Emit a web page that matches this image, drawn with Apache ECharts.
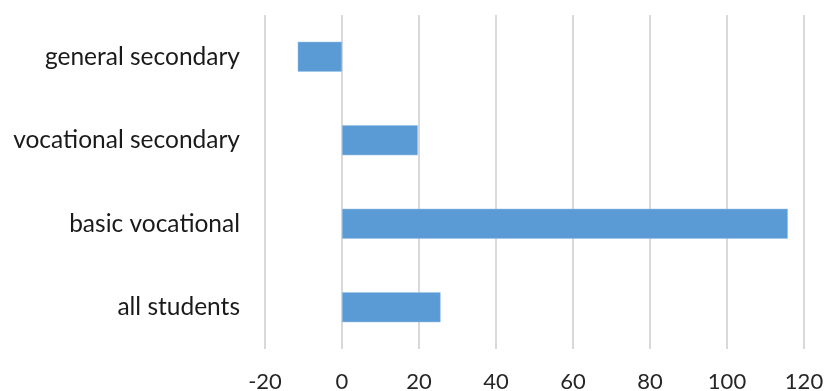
<!DOCTYPE html>
<html>
<head>
<meta charset="utf-8">
<script src="https://cdn.jsdelivr.net/npm/echarts@6/dist/echarts.min.js"></script>
<style>
  html, body { margin: 0; padding: 0; background: #fff; }
  #chart { width: 826px; height: 391px; }
</style>
</head>
<body>
<div id="chart"></div>
<script>
// Student groups, top to bottom
const categories = ['general secondary', 'vocational secondary', 'basic vocational', 'all students'];
// Change per group
const values = [-11.5, 19.7, 115.8, 25.6];
// Value axis range and step
const axisMin = -20;
const axisMax = 120;
const axisStep = 20;

const chart = echarts.init(document.getElementById('chart'), null, { renderer: 'canvas' });
chart.setOption({
  backgroundColor: '#ffffff',
  animation: false,
  grid: {
    left: 265, right: 22, top: 15, bottom: 42,
    containLabel: false,
    outerBoundsMode: 'none'
  },
  xAxis: {
    type: 'value',
    min: axisMin,
    max: axisMax,
    interval: axisStep,
    axisLine: { show: false },
    axisTick: { show: false },
    axisLabel: {
      color: '#262626',
      fontFamily: 'Lato',
      fontSize: 22,
      margin: 22
    },
    splitLine: { show: true, lineStyle: { color: '#d9d9d9', width: 2 } }
  },
  yAxis: {
    type: 'category',
    data: categories,
    inverse: true,
    axisLine: { show: false },
    axisTick: { show: false },
    axisLabel: {
      color: '#1a1a1a',
      fontFamily: 'Lato',
      fontSize: 24.5,
      margin: 25
    }
  },
  series: [{
    type: 'bar',
    data: values,
    barWidth: 30,
    itemStyle: { color: '#5b9bd5', borderColor: '#9dc3e6', borderWidth: 0.5 }
  }]
});
</script>
</body>
</html>
